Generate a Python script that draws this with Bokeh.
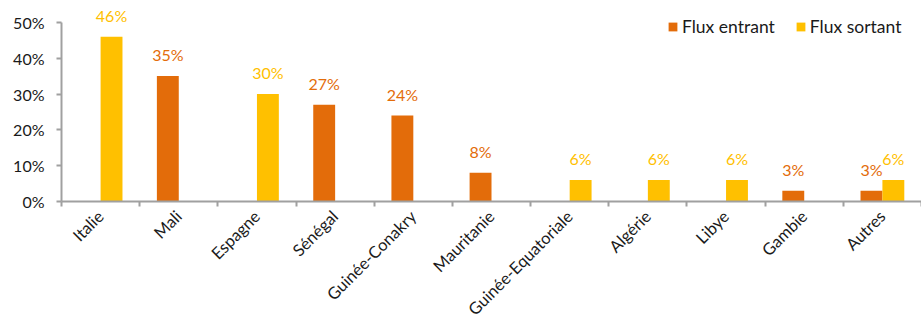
import math
from bokeh.plotting import figure
from bokeh.models import ColumnDataSource, FixedTicker, Range1d, Legend, LegendItem, PrintfTickFormatter
from bokeh.core.properties import value
from bokeh.embed import file_html
from bokeh.resources import INLINE

categories = ["Italie", "Mali", "Espagne", "Sénégal", "Guinée-Conakry", "Mauritanie",
              "Guinée-Equatoriale", "Algérie", "Libye", "Gambie", "Autres"]
flux_entrant = [None, 35, None, 27, 24, 8, None, None, None, 3, 3]
flux_sortant = [46, None, 30, None, None, None, 6, 6, 6, None, 6]
y_ticks = [0, 10, 20, 30, 40, 50]

ORANGE = "#E36C0A"
YELLOW = "#FFC000"
AXIS = "#A0A0A0"
TEXT = "#1a1a1a"
FONT = "Lato"

BW = 0.28
centers = [i + 0.5 for i in range(len(categories))]

def build(vals, shift):
    xs, ys, labels = [], [], []
    for c, v in zip(centers, vals):
        if v is None:
            continue
        xs.append(c + shift)
        ys.append(v)
        labels.append(f"{v}%")
    return ColumnDataSource(dict(x=xs, y=ys, label=labels))

src_in = build(flux_entrant, -BW / 2)
src_out = build(flux_sortant, BW / 2)

p = figure(width=921, height=329, output_backend="svg", toolbar_location=None,
           x_range=Range1d(0, 11), y_range=Range1d(0, 56.1),
           min_border_left=61, min_border_right=0, min_border_top=0, min_border_bottom=128)
p.outline_line_color = None
p.xgrid.visible = False
p.ygrid.visible = False
p.background_fill_color = "white"
p.border_fill_color = "white"

r_in = p.vbar(x="x", top="y", width=BW, source=src_in, fill_color=ORANGE, line_color=None)
r_out = p.vbar(x="x", top="y", width=BW, source=src_out, fill_color=YELLOW, line_color=None)

p.text(x="x", y="y", text="label", source=src_in, text_color=ORANGE,
       text_font=value(FONT), text_font_size="16px", text_align="center",
       text_baseline="bottom", y_offset=-12)
p.text(x="x", y="y", text="label", source=src_out, text_color=YELLOW,
       text_font=value(FONT), text_font_size="16px", text_align="center",
       text_baseline="bottom", y_offset=-12)

# y axis
ya = p.yaxis[0]
ya.ticker = FixedTicker(ticks=y_ticks)
ya.formatter = PrintfTickFormatter(format="%d%%")
ya.bounds = (0, 50)
ya.axis_line_color = AXIS
ya.axis_line_width = 2
ya.major_tick_line_color = AXIS
ya.major_tick_line_width = 2
ya.major_tick_out = 5
ya.major_tick_in = 0
ya.minor_tick_line_color = None
ya.major_label_text_font = FONT
ya.major_label_text_font_size = "16px"
ya.major_label_text_color = TEXT
ya.major_label_standoff = 12

# x axis: labels at category centres, tick marks at category boundaries
xa = p.xaxis[0]
xa.ticker = FixedTicker(ticks=centers, minor_ticks=[float(i) for i in range(len(categories) + 1)])
xa.major_label_overrides = {c: n for c, n in zip(centers, categories)}
xa.major_label_orientation = math.pi / 4
xa.axis_line_color = AXIS
xa.axis_line_width = 2
xa.major_tick_line_color = None
xa.minor_tick_line_color = AXIS
xa.minor_tick_line_width = 2
xa.minor_tick_out = 5
xa.minor_tick_in = 0
xa.major_label_text_font = FONT
xa.major_label_text_font_size = "16.5px"
xa.major_label_text_color = TEXT
xa.major_label_standoff = 6

legend = Legend(items=[LegendItem(label="Flux entrant", renderers=[r_in]),
                       LegendItem(label="Flux sortant", renderers=[r_out])],
                orientation="horizontal", location=(606, 164))
legend.border_line_color = None
legend.background_fill_alpha = 0
legend.padding = 0
legend.spacing = 20
legend.glyph_width = 11
legend.glyph_height = 11
legend.label_standoff = 4
legend.label_text_font = FONT
legend.label_text_font_size = "17.5px"
legend.label_text_color = TEXT
p.add_layout(legend)

open("out.html", "w").write(file_html(p, INLINE))
